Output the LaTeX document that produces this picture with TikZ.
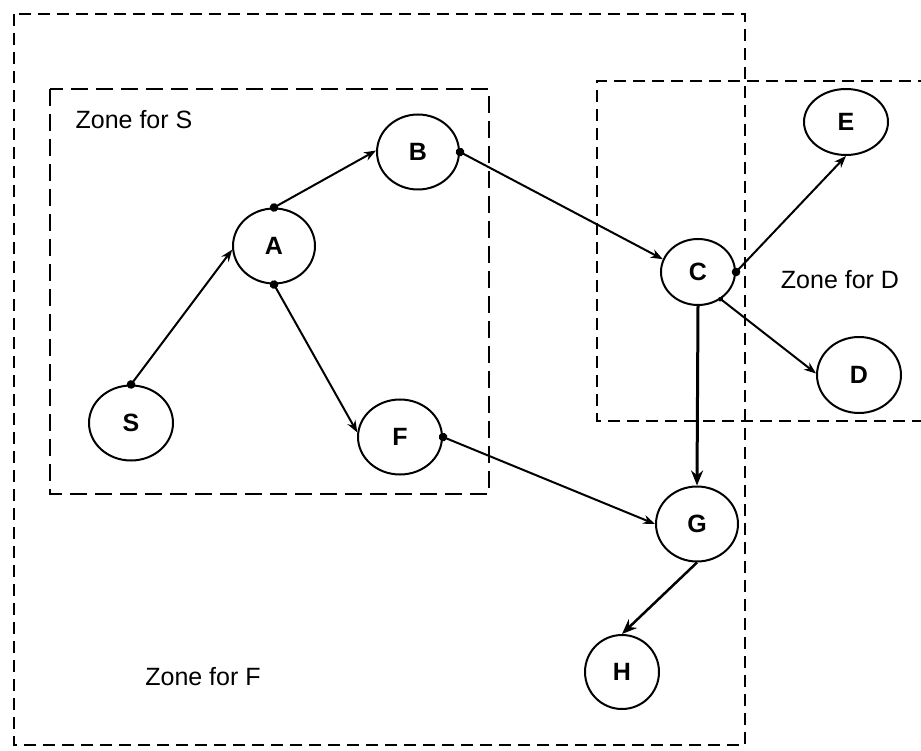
\documentclass[tikz,border=0pt]{standalone}
\usepackage{fontspec}
\setmainfont{Liberation Sans}
\usetikzlibrary{shapes.geometric,arrows.meta}

\begin{document}
\begin{tikzpicture}[x=1pt, y=-1pt,
  task/.style={draw, ellipse, line width=2pt, inner sep=0pt, minimum width=82pt, minimum height=75pt, font=\fontsize{25}{30}\selectfont\bfseries},
  zone/.style={line width=2pt, dash pattern=on 12pt off 7pt},
  zonelabel/.style={font=\fontsize{25}{30}\selectfont},
  link/.style={{Circle[length=8.5pt]}-{Stealth[length=12pt,width=9pt]}, line width=2pt, shorten <=-4.2pt},
  strong/.style={-{Stealth[length=15pt,width=12pt]}, line width=3pt}
]
\useasboundingbox (0,0) rectangle (921,751);

% zones
\draw[zone] (14,14) rectangle (745,745);
\draw[zone, line width=2.8pt, dash pattern=on 17pt off 8pt] (50,89) rectangle (489,494);
\draw[zone] (930,81) -- (597,81) -- (597,421) -- (930,421);
\node[zonelabel] (zs) at (134,120) {Zone for S};
\node[zonelabel] (zd) at (840,280) {Zone for D};
\node[zonelabel] (zf) at (203,677) {Zone for F};

% nodes
\node[task] (b) at (418,152) {B};
\node[task] (a) at (274,246) {A};
\node[task, minimum width=84pt] (s) at (131,423) {S};
\node[task, minimum width=84pt] (f) at (400,437) {F};
\node[task, minimum width=74pt, minimum height=66pt] (c) at (698,272) {C};
\node[task, minimum width=84pt, minimum height=66pt] (e) at (846,122) {E};
\node[task, minimum width=84pt, minimum height=76pt] (d) at (859,375) {D};
\node[task] (g) at (697,524) {G};
\node[task, minimum width=74pt, minimum height=74pt] (h) at (622,672) {H};

% links
\draw[link] (s.north) -- (a.185);
\draw[link] (a.north) -- (b.178);
\draw[link] (a.south) -- (f.174);
\draw[link] (b.east) -- (c.160);
\draw[link] (c.east) -- (e.south);
\draw[link, {Circle[length=5pt]}-{Stealth[length=12pt,width=9pt]}, shorten <=-2.5pt] (c.-50) -- (d.178);
\draw[link] (f.east) -- (g.west);
\draw[strong] (c.south) -- (g.north);
\draw[strong, line width=2.5pt] (g.south) -- (h.north);
\end{tikzpicture}
\end{document}
